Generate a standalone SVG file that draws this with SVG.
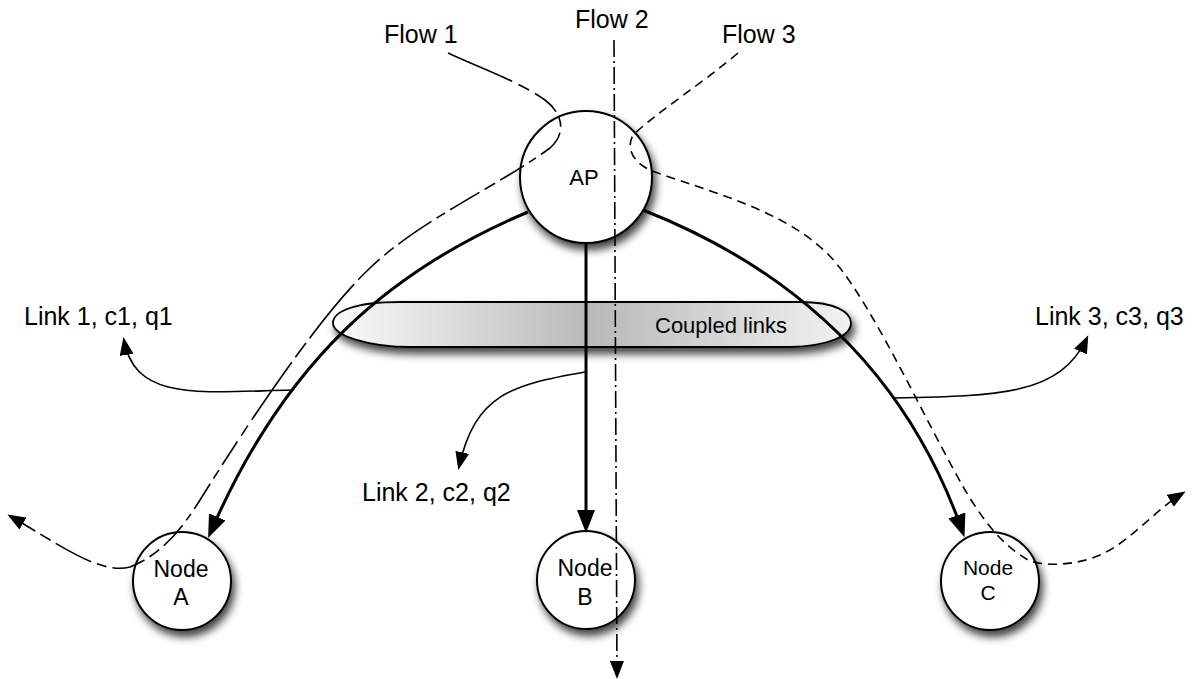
<svg xmlns="http://www.w3.org/2000/svg" width="1198" height="679" viewBox="0 0 1198 679">
  <style>
    .lbl { font-family: "Liberation Sans", Arial, Helvetica, sans-serif; font-size: 25px; fill: #000; }
    .ntxt { font-family: "Liberation Sans", Arial, Helvetica, sans-serif; fill: #000; text-anchor: middle; }
    .node { fill: #fff; stroke: #000; stroke-width: 2; filter: url(#shadow); }
    .link { fill: none; stroke: #000; stroke-width: 3; marker-end: url(#bigArrow); }
    .callout { fill: none; stroke: #000; stroke-width: 1.6; marker-end: url(#smallArrow); }
    .flow { fill: none; stroke: #000; stroke-width: 1.6; marker-end: url(#smallArrow); }
  </style>
  <defs>
    <filter id="shadow" x="-30%" y="-30%" width="170%" height="170%">
      <feGaussianBlur in="SourceAlpha" stdDeviation="4.5"/>
      <feOffset dx="3" dy="6" result="blur"/>
      <feComponentTransfer><feFuncA type="linear" slope="0.75"/></feComponentTransfer>
      <feMerge><feMergeNode/><feMergeNode in="SourceGraphic"/></feMerge>
    </filter>
    <linearGradient id="pillFill" x1="333" y1="0" x2="851" y2="0" gradientUnits="userSpaceOnUse">
      <stop offset="0" stop-color="#fafafa"/>
      <stop offset="0.5" stop-color="#b9b9b9"/>
      <stop offset="1" stop-color="#f2f2f2"/>
    </linearGradient>
    <marker id="bigArrow" markerUnits="userSpaceOnUse" markerWidth="24" markerHeight="18" refX="17" refY="9" orient="auto">
      <path d="M0,0 L23,9 L0,18 Z" fill="#000"/>
    </marker>
    <marker id="smallArrow" markerUnits="userSpaceOnUse" markerWidth="18" markerHeight="14" refX="15" refY="7" orient="auto">
      <path d="M0,0 L18,7 L0,14 Z" fill="#000"/>
    </marker>
  </defs>

  <rect width="1198" height="679" fill="#fff"/>

  <!-- nodes -->
  <g id="node-ap">
    <circle class="node" cx="586" cy="177" r="66"/>
    <text class="ntxt" x="584" y="185" font-size="22">AP</text>
  </g>
  <g id="node-a">
    <circle class="node" cx="182" cy="581" r="49"/>
    <text class="ntxt" x="181" y="577" font-size="23">Node</text>
    <text class="ntxt" x="181" y="605" font-size="23">A</text>
  </g>
  <g id="node-b">
    <circle class="node" cx="586" cy="580" r="49"/>
    <text class="ntxt" x="585" y="576" font-size="23">Node</text>
    <text class="ntxt" x="585" y="605" font-size="23">B</text>
  </g>
  <g id="node-c">
    <circle class="node" cx="990" cy="581" r="49"/>
    <text class="ntxt" x="988" y="575" font-size="21">Node</text>
    <text class="ntxt" x="988" y="600" font-size="21">C</text>
  </g>

  <!-- coupled links band -->
  <g id="coupled">
    <path d="M400,302 L800,302 C835,302 851,312 851,323 C851,336 828,346 790,347 L410,347 C370,347 333,336 333,323 C333,311 356,302 400,302 Z"
          fill="url(#pillFill)" stroke="#000" stroke-width="1.8" filter="url(#shadow)"/>
    <text class="lbl" x="655" y="333" style="font-size:22px">Coupled links</text>
  </g>

  <!-- connectors -->
  <g id="connectors">
    <!-- links AP to nodes -->
    <path class="link" d="M528,212 C390,270 285,360 210.5,532.5"/>
    <path class="link" d="M586,243 L586,527"/>
    <path class="link" d="M643,210 C790,268 905,368 962.5,531.5"/>

    <!-- link callouts -->
    <path class="callout" d="M292,390 C200,392 135,402 124,340"/>
    <path class="callout" d="M585,372 C510,385 475,395 459,467"/>
    <path class="callout" d="M893,398 C1000,396 1060,395 1087,338"/>

    <!-- flow 1 -->
    <path class="flow" stroke-dasharray="70 7 12 7 28 6 10 6 30 6 8 6 28 6 12 6 34 6 10 6 40 6 12 6 30 6 70 6 18 6"
          d="M448,53 C480,68 520,82 545,100 C565,115 565,135 550,148 C500,185 420,220 370,268 C320,315 250,420 200,500 C180,532 160,555 130,567 C100,575 60,545 10,516"/>
    <!-- flow 2 -->
    <path class="flow" stroke-dasharray="17 4 2 4" d="M614,40 L617,676"/>
    <!-- flow 3 -->
    <path class="flow" stroke-dasharray="9 6"
          d="M738,53 C700,85 660,110 633,135 C625,150 635,165 655,172 C720,195 800,215 840,268 C880,320 925,420 965,490 C980,515 1000,545 1030,561 C1045,566 1075,566 1100,555 C1130,542 1155,510 1183,493"/>
  </g>

  <!-- labels -->
  <g id="labels">
    <text class="lbl" x="384" y="43">Flow 1</text>
    <text class="lbl" x="575" y="28">Flow 2</text>
    <text class="lbl" x="722" y="43">Flow 3</text>
    <text class="lbl" x="24" y="325">Link 1, c1, q1</text>
    <text class="lbl" x="362" y="501">Link 2, c2, q2</text>
    <text class="lbl" x="1035" y="325">Link 3, c3, q3</text>
  </g>
</svg>
